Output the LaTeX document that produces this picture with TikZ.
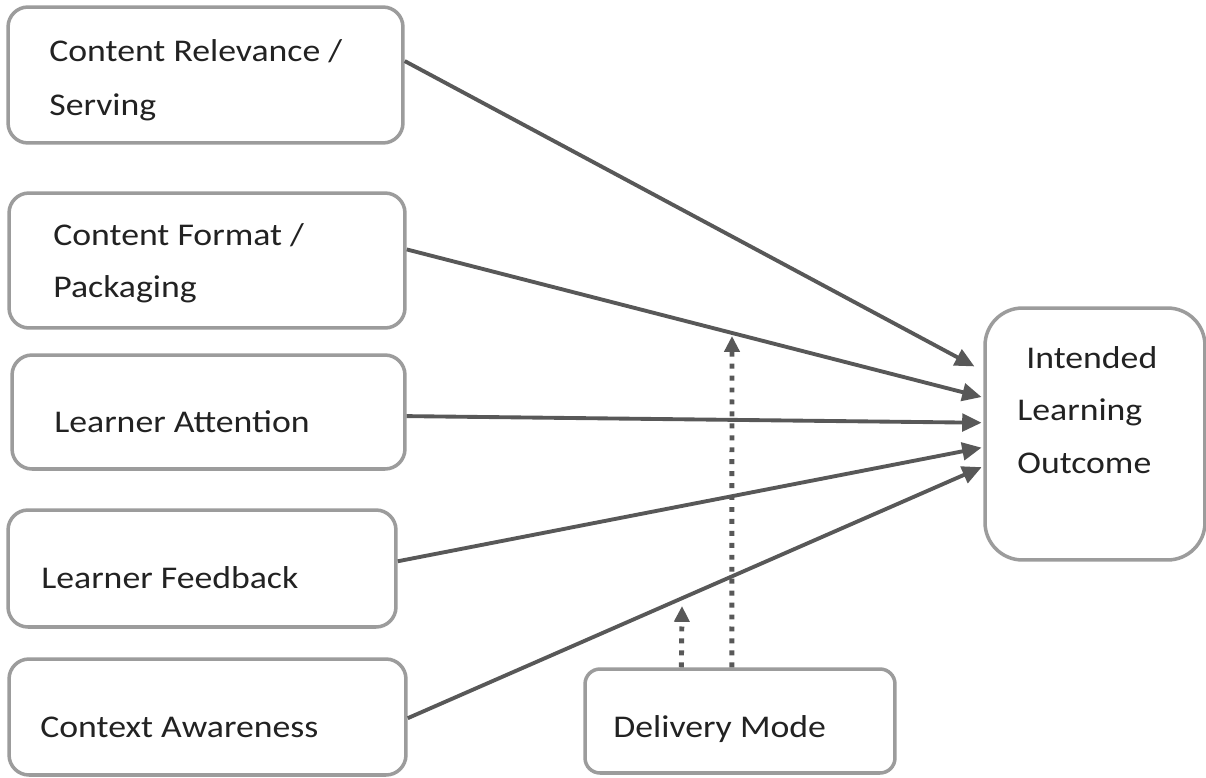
\documentclass[tikz,border=0pt]{standalone}
\usepackage{fontspec}
\setmainfont{Carlito}[FakeStretch=1.13]
\usetikzlibrary{arrows.meta,calc}
\definecolor{boxgray}{HTML}{9C9C9C}
\definecolor{linegray}{HTML}{585858}
\definecolor{inkgray}{HTML}{222222}
\begin{document}
\begin{tikzpicture}[x=0.02cm,y=-0.02cm,
  box/.style={draw=boxgray, line width=2pt, rounded corners=0.4cm, inner sep=0pt, fill=white},
  lbl/.style={anchor=base west, inner sep=0pt, text=inkgray, font=\fontsize{18pt}{22pt}\selectfont},
  conn/.style={draw=linegray, line width=2.2pt, -{Triangle[length=11pt,width=10pt]}},
  dotconn/.style={draw=linegray, line width=2.8pt, dash pattern=on 2.8pt off 4pt,
                  -{Triangle[length=9pt,width=8.5pt]}}]
  % canvas
  \fill[white] (0,0) rectangle (1206,777);
  \useasboundingbox (0,0) rectangle (1206,777);

  % factor boxes on the left
  \node[box, minimum width=7.90cm, minimum height=2.72cm] (rel) at (205.5,75) {};
  \node[box, minimum width=7.92cm, minimum height=2.70cm] (fmt) at (207,260.5) {};
  \node[box, minimum width=7.86cm, minimum height=2.28cm] (att) at (208.5,412) {};
  \node[box, minimum width=7.76cm, minimum height=2.34cm] (fb)  at (202,568.5) {};
  \node[box, minimum width=7.94cm, minimum height=2.32cm] (ctx) at (207.5,717) {};

  % outcome and moderator
  \node[box, rounded corners=0.75cm, minimum width=4.40cm, minimum height=5.04cm] (out) at (1095,434) {};
  \node[box, rounded corners=0.3cm, minimum width=6.20cm, minimum height=2.08cm] (dm) at (740,721) {};

  % labels
  \node[lbl] (relA) at (49,62)  {Content Relevance /};
  \node[lbl] (relB) at (49,115) {Serving};
  \node[lbl] (fmtA) at (53,245) {Content Format /};
  \node[lbl] (fmtB) at (53,297) {Packaging};
  \node[lbl] (attA) at (54,432) {Learner Attention};
  \node[lbl] (fbA)  at (41,588) {Learner Feedback};
  \node[lbl] (ctxA) at (40,737) {Context Awareness};
  \node[lbl] (dmA)  at (613,737) {Delivery Mode};
  \node[lbl] (outA) at (1026,368) {Intended};
  \node[lbl] (outB) at (1017,420) {Learning};
  \node[lbl] (outC) at (1017,473) {Outcome};

  % direct effects on the outcome
  \draw[conn, shorten >=5.7pt] ($(rel.north east)!0.40!(rel.south east)$) -- ($(out.north west)!0.254!(out.south west)$);
  \draw[conn, shorten >=1pt] ($(fmt.north east)!0.42!(fmt.south east)$) -- ($(out.north west)!0.357!(out.south west)$);
  \draw[conn, shorten >=1pt] ($(att.north east)!0.535!(att.south east)$) -- ($(out.north west)!0.456!(out.south west)$);
  \draw[conn, shorten >=1pt] ($(fb.north east)!0.44!(fb.south east)$) -- ($(out.north west)!0.552!(out.south west)$);
  \draw[conn, shorten >=1pt] ($(ctx.north east)!0.51!(ctx.south east)$) -- ($(out.north west)!0.627!(out.south west)$);

  % moderating influence of the delivery mode
  \coordinate (dmLong)  at (732,336);
  \coordinate (dmShort) at (682,606);
  \draw[dotconn] ($(dm.north west)!0.474!(dm.north east)$) -- (dmLong);
  \draw[dotconn] ($(dm.north west)!0.313!(dm.north east)$) -- (dmShort);
\end{tikzpicture}
\end{document}
